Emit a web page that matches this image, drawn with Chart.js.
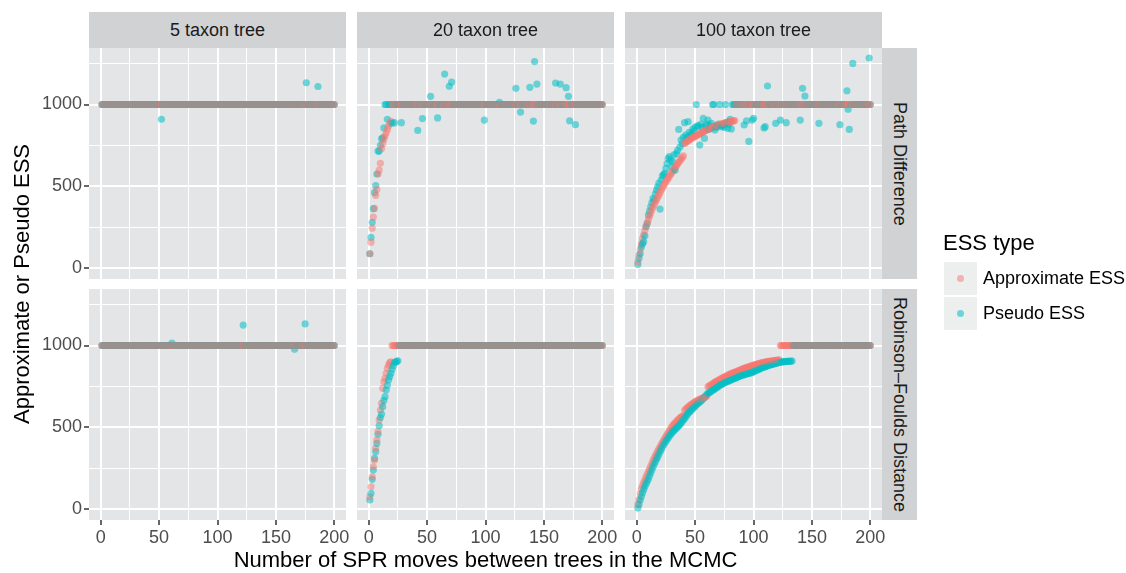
<!DOCTYPE html>
<html>
<head>
<meta charset="utf-8">
<script src="https://cdn.jsdelivr.net/npm/chart.js@4"></script>
<style>
body{margin:0;width:1126px;height:573px;background:#fff;position:relative;overflow:hidden;font-family:"Liberation Sans",Arial,sans-serif}
canvas{position:absolute;left:0;top:0}
.strip{position:absolute;background:#D1D2D4;color:#1A1A1A;font-size:18px;display:flex;align-items:center;justify-content:center}
.vert{writing-mode:vertical-rl}
.title{position:absolute;font-size:22px;color:#000;line-height:26px;text-align:center;white-space:nowrap}
</style>
</head>
<body>
<script>
// x positions: number of SPR moves
const moves = [
1,2,3,4,5,6,7,8,9,10,11,12,13,14,15,16,17,18,19,20,
21,22,23,24,25,26,27,28,29,30,31,32,33,34,35,36,37,38,39,40,
41,42,43,44,45,46,47,48,49,50,51,52,53,54,55,56,57,58,59,60,
61,62,63,64,65,66,67,68,69,70,71,72,73,74,75,76,77,78,79,80,
81,82,83,84,85,86,87,88,89,90,91,92,93,94,95,96,97,98,99,100,
101,102,103,104,105,106,107,108,109,110,111,112,113,114,115,116,117,118,119,120,
121,122,123,124,125,126,127,128,129,130,131,132,133,134,135,136,137,138,139,140,
141,142,143,144,145,146,147,148,149,150,151,152,153,154,155,156,157,158,159,160,
161,162,163,164,165,166,167,168,169,170,171,172,173,174,175,176,177,178,179,180,
181,182,183,184,185,186,187,188,189,190,191,192,193,194,195,196,197,198,199,200];

const xTicks = [0, 25, 50, 75, 100, 125, 150, 175, 200];
const yTicks = [0, 250, 500, 750, 1000, 1250];
const taxa = ['5 taxon tree', '20 taxon tree', '100 taxon tree'];
const metrics = ['Path Difference', 'Robinson\u2013Foulds Distance'];
const essTypes = ['Approximate ESS', 'Pseudo ESS'];
const essColors = ['rgba(248,118,109,0.5)', 'rgba(0,191,196,0.55)'];

// Path Difference, 5 taxa
const pathApprox5 = [
1000,1000,1000,1000,1000,1000,1000,1000,1000,1000,1000,1000,1000,1000,1000,1000,1000,1000,1000,1000,
1000,1000,1000,1000,1000,1000,1000,1000,1000,1000,1000,1000,1000,1000,1000,1000,1000,1000,1000,1000,
1000,1000,1000,1000,1000,1000,1000,1000,1000,1000,1000,1000,1000,1000,1000,1000,1000,1000,1000,1000,
1000,1000,1000,1000,1000,1000,1000,1000,1000,1000,1000,1000,1000,1000,1000,1000,1000,1000,1000,1000,
1000,1000,1000,1000,1000,1000,1000,1000,1000,1000,1000,1000,1000,1000,1000,1000,1000,1000,1000,1000,
1000,1000,1000,1000,1000,1000,1000,1000,1000,1000,1000,1000,1000,1000,1000,1000,1000,1000,1000,1000,
1000,1000,1000,1000,1000,1000,1000,1000,1000,1000,1000,1000,1000,1000,1000,1000,1000,1000,1000,1000,
1000,1000,1000,1000,1000,1000,1000,1000,1000,1000,1000,1000,1000,1000,1000,1000,1000,1000,1000,1000,
1000,1000,1000,1000,1000,1000,1000,1000,1000,1000,1000,1000,1000,1000,1000,1000,1000,1000,1000,1000,
1000,1000,1000,1000,1000,1000,1000,1000,1000,1000,1000,1000,1000,1000,1000,1000,1000,1000,1000,1000];
const pathPseudo5 = [
1000,1000,1000,1000,1000,1000,1000,1000,1000,1000,1000,1000,1000,1000,1000,1000,1000,1000,1000,1000,
1000,1000,1000,1000,1000,1000,1000,1000,1000,1000,1000,1000,1000,1000,1000,1000,1000,1000,1000,1000,
1000,1000,1000,1000,1000,1000,1000,1000,1000,1000,1000,910,1000,1000,1000,1000,1000,1000,1000,1000,
1000,1000,1000,1000,1000,1000,1000,1000,1000,1000,1000,1000,1000,1000,1000,1000,1000,1000,1000,1000,
1000,1000,1000,1000,1000,1000,1000,1000,1000,1000,1000,1000,1000,1000,1000,1000,1000,1000,1000,1000,
1000,1000,1000,1000,1000,1000,1000,1000,1000,1000,1000,1000,1000,1000,1000,1000,1000,1000,1000,1000,
1000,1000,1000,1000,1000,1000,1000,1000,1000,1000,1000,1000,1000,1000,1000,1000,1000,1000,1000,1000,
1000,1000,1000,1000,1000,1000,1000,1000,1000,1000,1000,1000,1000,1000,1000,1000,1000,1000,1000,1000,
1000,1000,1000,1000,1000,1000,1000,1000,1000,1000,1000,1000,1000,1000,1000,1133,1000,1000,1000,1000,
1000,1000,1000,1000,1000,1110,1000,1000,1000,1000,1000,1000,1000,1000,1000,1000,1000,1000,1000,1000];

// Path Difference, 20 taxa
const pathApprox20 = [
89,160,245,313,366,446,482,576,600,641,732,760,787,808,826,848,869,885,897,1000,
1000,1000,1000,1000,1000,1000,1000,1000,1000,1000,1000,1000,1000,1000,1000,1000,1000,1000,1000,1000,
1000,1000,1000,1000,1000,1000,1000,1000,1000,1000,1000,1000,1000,1000,1000,1000,1000,1000,1000,1000,
1000,1000,1000,1000,1000,1000,1000,1000,1000,1000,1000,1000,1000,1000,1000,1000,1000,1000,1000,1000,
1000,1000,1000,1000,1000,1000,1000,1000,1000,1000,1000,1000,1000,1000,1000,1000,1000,1000,1000,1000,
1000,1000,1000,1000,1000,1000,1000,1000,1000,1000,1000,1000,1000,1000,1000,1000,1000,1000,1000,1000,
1000,1000,1000,1000,1000,1000,1000,1000,1000,1000,1000,1000,1000,1000,1000,1000,1000,1000,1000,1000,
1000,1000,1000,1000,1000,1000,1000,1000,1000,1000,1000,1000,1000,1000,1000,1000,1000,1000,1000,1000,
1000,1000,1000,1000,1000,1000,1000,1000,1000,1000,1000,1000,1000,1000,1000,1000,1000,1000,1000,1000,
1000,1000,1000,1000,1000,1000,1000,1000,1000,1000,1000,1000,1000,1000,1000,1000,1000,1000,1000,1000];
const pathPseudo20 = [
89,189,281,364,462,505,576,716,716,751,791,797,857,1000,1000,910,1000,1000,1000,886,
1000,889,1000,1000,1000,1000,1000,889,1000,1000,1000,1000,1000,1000,1000,1000,1000,1000,1000,1000,
1000,842,1000,1000,1000,914,1000,1000,1000,1000,1000,1000,1050,1000,1000,1000,1000,1000,918,1000,
1000,1000,1000,1000,1186,1000,1000,1000,1111,1000,1137,1000,1000,1000,1000,1000,1000,1000,1000,1000,
1000,1000,1000,1000,1000,1000,1000,1000,1000,1000,1000,1000,1000,1000,1000,1000,1000,1000,905,1000,
1000,1000,1000,1000,1000,1000,1000,1000,1000,1000,1000,1013,1000,1000,1000,1000,1000,1000,1000,1000,
1000,1000,1000,1000,1000,1099,1000,1000,1000,954,1000,1000,1000,1000,1000,1000,1000,1105,1000,1000,
899,1262,1000,1125,1000,1000,1000,1000,1000,1000,1000,1000,1000,1000,1000,1000,1000,1000,1000,1131,
1000,1000,1000,1125,1000,1000,1000,1000,1103,1000,1050,901,1000,1000,1000,1000,877,1000,1000,1000,
1000,1000,1000,1000,1000,1000,1000,1000,1000,1000,1000,1000,1000,1000,1000,1000,1000,1000,1000,1000];

// Path Difference, 100 taxa
const pathApprox100 = [
40,80,115,150,180,205,232,255,276,297,318,338,357,374,390,405,420,434,448,462,
476,490,503,516,528,540,551,562,573,584,595,606,617,627,637,647,657,667,677,686,
762,768,774,779,784,789,794,798,802,806,810,814,818,822,826,830,834,838,841,845,
848,851,855,858,861,864,867,870,872,875,877,880,882,884,886,888,890,892,894,896,
897,899,900,902,1000,1000,1000,1000,1000,1000,1000,1000,1000,1000,1000,1000,1000,1000,1000,1000,
1000,1000,1000,1000,1000,1000,1000,1000,1000,1000,1000,1000,1000,1000,1000,1000,1000,1000,1000,1000,
1000,1000,1000,1000,1000,1000,1000,1000,1000,1000,1000,1000,1000,1000,1000,1000,1000,1000,1000,1000,
1000,1000,1000,1000,1000,1000,1000,1000,1000,1000,1000,1000,1000,1000,1000,1000,1000,1000,1000,1000,
1000,1000,1000,1000,1000,1000,1000,1000,1000,1000,1000,1000,1000,1000,1000,1000,1000,1000,1000,1000,
1000,1000,1000,1000,1000,1000,1000,1000,1000,1000,1000,1000,1000,1000,1000,1000,1000,1000,1000,1000];
const pathPseudo100 = [
24,61,91,132,150,163,199,254,275,325,350,376,400,427,417,455,478,498,520,362,
539,564,572,580,610,640,671,682,660,620,651,693,600,700,720,848,740,783,760,800,
889,814,800,895,830,810,824,850,840,860,1000,870,869,753,880,860,916,793,870,880,
905,850,870,885,1000,1000,844,860,870,880,1000,865,870,875,860,1000,890,855,880,909,
851,1000,1000,1000,1000,1000,1000,1000,1000,1000,1000,875,1000,901,1000,775,1000,1000,905,916,
1000,1000,1000,1000,1000,1000,1000,1000,857,865,1000,1113,1000,1000,1000,1000,1000,1000,885,1000,
1000,1000,905,1000,1000,1000,1000,889,1000,1000,1000,1000,1000,1000,1000,1000,1000,1000,1000,905,
1000,1099,1000,1052,1000,1000,1000,1000,1000,1000,1000,1000,1000,1000,1000,885,1000,1000,1000,1000,
1000,1000,1000,1000,1000,1000,1000,1000,1000,1000,1000,1000,1000,877,1000,1000,1000,1000,1000,1084,
971,848,1000,1000,1251,1000,1000,1000,1000,1000,1000,1000,1000,1000,1000,1000,1000,1000,1284,1000];

// Robinson-Foulds, 5 taxa
const rfApprox5 = [
1000,1000,1000,1000,1000,1000,1000,1000,1000,1000,1000,1000,1000,1000,1000,1000,1000,1000,1000,1000,
1000,1000,1000,1000,1000,1000,1000,1000,1000,1000,1000,1000,1000,1000,1000,1000,1000,1000,1000,1000,
1000,1000,1000,1000,1000,1000,1000,1000,1000,1000,1000,1000,1000,1000,1000,1000,1000,1000,1000,1000,
1000,1000,1000,1000,1000,1000,1000,1000,1000,1000,1000,1000,1000,1000,1000,1000,1000,1000,1000,1000,
1000,1000,1000,1000,1000,1000,1000,1000,1000,1000,1000,1000,1000,1000,1000,1000,1000,1000,1000,1000,
1000,1000,1000,1000,1000,1000,1000,1000,1000,1000,1000,1000,1000,1000,1000,1000,1000,1000,1000,1000,
1000,1000,1000,1000,1000,1000,1000,1000,1000,1000,1000,1000,1000,1000,1000,1000,1000,1000,1000,1000,
1000,1000,1000,1000,1000,1000,1000,1000,1000,1000,1000,1000,1000,1000,1000,1000,1000,1000,1000,1000,
1000,1000,1000,1000,1000,1000,1000,1000,1000,1000,1000,1000,1000,1000,1000,1000,1000,1000,1000,1000,
1000,1000,1000,1000,1000,1000,1000,1000,1000,1000,1000,1000,1000,1000,1000,1000,1000,1000,1000,1000];
const rfPseudo5 = [
1000,1000,1000,1000,1000,1000,1000,1000,1000,1000,1000,1000,1000,1000,1000,1000,1000,1000,1000,1000,
1000,1000,1000,1000,1000,1000,1000,1000,1000,1000,1000,1000,1000,1000,1000,1000,1000,1000,1000,1000,
1000,1000,1000,1000,1000,1000,1000,1000,1000,1000,1000,1000,1000,1000,1000,1000,1000,1000,1000,1000,
1015,1000,1000,1000,1000,1000,1000,1000,1000,1000,1000,1000,1000,1000,1000,1000,1000,1000,1000,1000,
1000,1000,1000,1000,1000,1000,1000,1000,1000,1000,1000,1000,1000,1000,1000,1000,1000,1000,1000,1000,
1000,1000,1000,1000,1000,1000,1000,1000,1000,1000,1000,1000,1000,1000,1000,1000,1000,1000,1000,1000,
1000,1125,1000,1000,1000,1000,1000,1000,1000,1000,1000,1000,1000,1000,1000,1000,1000,1000,1000,1000,
1000,1000,1000,1000,1000,1000,1000,1000,1000,1000,1000,1000,1000,1000,1000,1000,1000,1000,1000,1000,
1000,1000,1000,1000,1000,977,1000,1000,1000,1000,1000,1000,1000,1000,1132,1000,1000,1000,1000,1000,
1000,1000,1000,1000,1000,1000,1000,1000,1000,1000,1000,1000,1000,1000,1000,1000,1000,1000,1000,1000];

// Robinson-Foulds, 20 taxa
const rfApprox20 = [
77,138,199,260,301,372,423,474,545,606,647,739,779,800,830,861,881,895,901,1000,
1000,1000,1000,1000,1000,1000,1000,1000,1000,1000,1000,1000,1000,1000,1000,1000,1000,1000,1000,1000,
1000,1000,1000,1000,1000,1000,1000,1000,1000,1000,1000,1000,1000,1000,1000,1000,1000,1000,1000,1000,
1000,1000,1000,1000,1000,1000,1000,1000,1000,1000,1000,1000,1000,1000,1000,1000,1000,1000,1000,1000,
1000,1000,1000,1000,1000,1000,1000,1000,1000,1000,1000,1000,1000,1000,1000,1000,1000,1000,1000,1000,
1000,1000,1000,1000,1000,1000,1000,1000,1000,1000,1000,1000,1000,1000,1000,1000,1000,1000,1000,1000,
1000,1000,1000,1000,1000,1000,1000,1000,1000,1000,1000,1000,1000,1000,1000,1000,1000,1000,1000,1000,
1000,1000,1000,1000,1000,1000,1000,1000,1000,1000,1000,1000,1000,1000,1000,1000,1000,1000,1000,1000,
1000,1000,1000,1000,1000,1000,1000,1000,1000,1000,1000,1000,1000,1000,1000,1000,1000,1000,1000,1000,
1000,1000,1000,1000,1000,1000,1000,1000,1000,1000,1000,1000,1000,1000,1000,1000,1000,1000,1000,1000];
const rfPseudo20 = [
57,98,183,240,311,352,403,458,511,560,582,627,665,688,728,757,790,810,830,855,
875,895,900,903,907,1000,1000,1000,1000,1000,1000,1000,1000,1000,1000,1000,1000,1000,1000,1000,
1000,1000,1000,1000,1000,1000,1000,1000,1000,1000,1000,1000,1000,1000,1000,1000,1000,1000,1000,1000,
1000,1000,1000,1000,1000,1000,1000,1000,1000,1000,1000,1000,1000,1000,1000,1000,1000,1000,1000,1000,
1000,1000,1000,1000,1000,1000,1000,1000,1000,1000,1000,1000,1000,1000,1000,1000,1000,1000,1000,1000,
1000,1000,1000,1000,1000,1000,1000,1000,1000,1000,1000,1000,1000,1000,1000,1000,1000,1000,1000,1000,
1000,1000,1000,1000,1000,1000,1000,1000,1000,1000,1000,1000,1000,1000,1000,1000,1000,1000,1000,1000,
1000,1000,1000,1000,1000,1000,1000,1000,1000,1000,1000,1000,1000,1000,1000,1000,1000,1000,1000,1000,
1000,1000,1000,1000,1000,1000,1000,1000,1000,1000,1000,1000,1000,1000,1000,1000,1000,1000,1000,1000,
1000,1000,1000,1000,1000,1000,1000,1000,1000,1000,1000,1000,1000,1000,1000,1000,1000,1000,1000,1000];

// Robinson-Foulds, 100 taxa
const rfApprox100 = [
30,60,95,125,145,163,180,197,214,231,246,263,280,297,312,326,340,355,368,382,
395,408,420,432,444,456,468,480,491,503,512,520,528,536,544,551,557,563,568,573,
605,611,618,624,630,636,641,646,651,656,660,664,668,671,674,677,680,684,688,692,
748,752,757,762,766,771,776,780,784,788,792,796,800,804,808,811,815,818,822,825,
828,831,834,837,840,843,846,849,852,855,858,860,863,865,868,870,873,875,878,880,
882,884,886,888,890,892,894,896,898,899,901,902,903,904,905,906,907,908,909,910,
911,912,1000,1000,1000,1000,1000,1000,1000,1000,1000,1000,1000,1000,1000,1000,1000,1000,1000,1000,
1000,1000,1000,1000,1000,1000,1000,1000,1000,1000,1000,1000,1000,1000,1000,1000,1000,1000,1000,1000,
1000,1000,1000,1000,1000,1000,1000,1000,1000,1000,1000,1000,1000,1000,1000,1000,1000,1000,1000,1000,
1000,1000,1000,1000,1000,1000,1000,1000,1000,1000,1000,1000,1000,1000,1000,1000,1000,1000,1000,1000];
const rfPseudo100 = [
8,30,55,78,100,120,138,155,170,185,203,222,240,258,275,290,306,320,336,352,
366,380,393,405,416,427,437,447,457,466,474,482,489,496,503,510,518,527,536,545,
555,565,575,586,593,600,608,616,623,630,637,644,650,656,662,669,677,684,692,700,
708,712,717,722,727,731,736,741,746,751,757,760,764,768,772,776,779,782,785,788,
791,794,797,800,803,806,809,812,815,818,820,822,824,826,828,830,832,834,837,840,
843,847,850,853,856,859,863,867,869,871,874,876,878,881,883,885,887,889,891,893,
895,896,898,899,901,902,902,903,903,904,904,905,905,1000,1000,1000,1000,1000,1000,1000,
1000,1000,1000,1000,1000,1000,1000,1000,1000,1000,1000,1000,1000,1000,1000,1000,1000,1000,1000,1000,
1000,1000,1000,1000,1000,1000,1000,1000,1000,1000,1000,1000,1000,1000,1000,1000,1000,1000,1000,1000,
1000,1000,1000,1000,1000,1000,1000,1000,1000,1000,1000,1000,1000,1000,1000,1000,1000,1000,1000,1000];

const panels = [
  [pathApprox5, pathPseudo5], [pathApprox20, pathPseudo20], [pathApprox100, pathPseudo100],
  [rfApprox5, rfPseudo5], [rfApprox20, rfPseudo20], [rfApprox100, rfPseudo100]
];

const W = 1126, H = 573;
const colLeft = [89, 357, 625], rowTop = [48, 289];
const PW = 257, PH = 231, YW = 50, XH = 30;
const PANEL_BG = '#E4E5E7';
const FONT = {family: 'Liberation Sans', size: 18};

const panelBg = {
  id: 'panelBg',
  beforeDraw(chart) {
    const {ctx, chartArea: a} = chart;
    ctx.save();
    ctx.fillStyle = PANEL_BG;
    ctx.fillRect(a.left, a.top, a.right - a.left, a.bottom - a.top);
    ctx.restore();
  }
};

function gridOpts(major, showTicks) {
  return {
    color: '#fff',
    lineWidth: c => (c.tick && c.tick.value % major ? 1 : 2),
    drawTicks: showTicks,
    tickLength: 5,
    tickWidth: 1.5,
    tickColor: c => (c.tick && c.tick.value % major ? 'rgba(0,0,0,0)' : '#333')
  };
}

panels.forEach(([approx, pseudo], k) => {
  const r = Math.floor(k / 3), c = k % 3;
  const left = colLeft[c], top = rowTop[r];
  const cv = document.createElement('canvas');
  cv.width = W; cv.height = H;
  document.body.appendChild(cv);

  // interleave both ESS types per move count, as ggplot draws them row by row
  const pts = [];
  moves.forEach((m, i) => {
    pts.push({x: m, y: pseudo[i], s: 1});
    pts.push({x: m, y: approx[i], s: 0});
  });

  new Chart(cv, {
    type: 'scatter',
    data: {datasets: [{
      data: pts,
      pointRadius: 3.6,
      pointBorderWidth: 0,
      pointBackgroundColor: pts.map(p => essColors[p.s]),
      pointBorderColor: 'rgba(0,0,0,0)'
    }]},
    options: {
      responsive: false,
      animation: false,
      devicePixelRatio: 1,
      events: [],
      layout: {
        autoPadding: false,
        padding: {left: left - YW, top: top, right: W - left - PW, bottom: H - top - PH - XH}
      },
      plugins: {legend: {display: false}, tooltip: {enabled: false}},
      scales: {
        x: {
          type: 'linear', min: -10, max: 210,
          afterBuildTicks: s => { s.ticks = xTicks.map(v => ({value: v})); },
          afterFit: s => { s.height = XH; },
          border: {display: false},
          grid: gridOpts(50, r === 1),
          ticks: {display: r === 1, autoSkip: false, maxRotation: 0, padding: 2,
                  color: '#4D4D4D', font: FONT, callback: v => (v % 50 ? '' : String(v))}
        },
        y: {
          type: 'linear', min: -65, max: 1345,
          afterBuildTicks: s => { s.ticks = yTicks.map(v => ({value: v})); },
          afterFit: s => { s.width = YW; },
          border: {display: false},
          grid: gridOpts(500, c === 0),
          ticks: {display: c === 0, autoSkip: false, padding: 2,
                  color: '#4D4D4D', font: FONT, callback: v => (v % 500 ? '' : String(v))}
        }
      }
    },
    plugins: [panelBg]
  });
});

function addDiv(cls, css, text) {
  const d = document.createElement('div');
  d.className = cls;
  d.style.cssText = css;
  d.textContent = text;
  document.body.appendChild(d);
  return d;
}

taxa.forEach((t, c) => addDiv('strip', `left:${colLeft[c]}px;top:12px;width:${PW}px;height:36px`, t));
metrics.forEach((m, r) => addDiv('strip vert', `left:882px;top:${rowTop[r]}px;width:35px;height:${PH}px`, m));

addDiv('title', `left:${colLeft[0]}px;top:547px;width:${colLeft[2] + PW - colLeft[0]}px`,
  'Number of SPR moves between trees in the MCMC');
addDiv('title', `left:9px;top:${rowTop[0]}px;width:26px;height:${rowTop[1] + PH - rowTop[0]}px;writing-mode:vertical-rl;transform:rotate(180deg)`,
  'Approximate or Pseudo ESS');

addDiv('title', 'left:943px;top:230px;text-align:left', 'ESS type');
essTypes.forEach((name, i) => {
  const y = 262 + i * 35;
  const key = addDiv('', `position:absolute;left:944px;top:${y}px;width:33px;height:33px;background:#EDEEEE`, '');
  const dot = document.createElement('div');
  dot.style.cssText = `position:absolute;left:13px;top:13px;width:7px;height:7px;border-radius:50%;background:${essColors[i]}`;
  key.appendChild(dot);
  addDiv('', `position:absolute;left:983px;top:${y}px;height:33px;line-height:33px;font-size:18px;color:#000;white-space:nowrap`, name);
});
</script>
</body>
</html>
